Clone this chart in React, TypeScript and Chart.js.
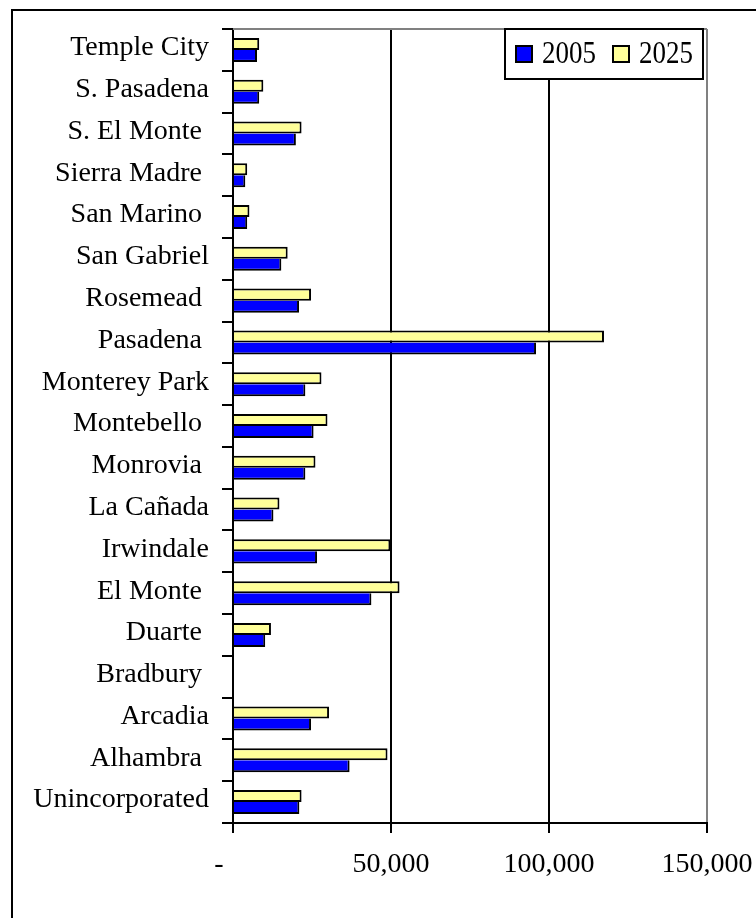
import React, { useEffect, useRef } from 'react';
import { Chart, registerables } from 'chart.js';

Chart.register(...registerables);

// Cities listed top to bottom as they appear on the category axis
const cities = [
  'Temple City',
  'S. Pasadena',
  'S. El Monte ',
  'Sierra Madre ',
  'San Marino ',
  'San Gabriel',
  'Rosemead ',
  'Pasadena ',
  'Monterey Park',
  'Montebello ',
  'Monrovia ',
  'La Cañada',
  'Irwindale',
  'El Monte ',
  'Duarte ',
  'Bradbury ',
  'Arcadia',
  'Alhambra ',
  'Unincorporated',
];

const pop2005 = [
  7600, 8300, 19900, 3900, 4500, 15300, 20900, 95900, 22900, 25500, 22900,
  12800, 26600, 43800, 10200, 0, 24700, 36900, 21000,
];

const pop2025 = [
  8300, 9600, 21700, 4500, 5200, 17300, 24700, 117400, 28000, 29900, 26100,
  14700, 49800, 52700, 12000, 0, 30400, 48900, 21700,
];

const xTicks = [0, 50000, 100000, 150000];

const SERIF = "'Liberation Serif', 'Times New Roman', serif";

const BLUE = '#0000FF';
const YELLOW = '#FFFF99';

// Gray frame line along the top edge of the plot area
const plotFrame = {
  id: 'plotFrame',
  beforeDatasetsDraw(chart: any) {
    const { ctx, chartArea } = chart;
    ctx.save();
    ctx.strokeStyle = '#808080';
    ctx.lineWidth = 2;
    ctx.beginPath();
    ctx.moveTo(chartArea.left, chartArea.top);
    ctx.lineTo(chartArea.right, chartArea.top);
    ctx.stroke();
    ctx.restore();
  },
};

// Boxed legend sitting in the top-right corner of the plot area
const boxedLegend = {
  id: 'boxedLegend',
  afterDraw(chart: any) {
    const { ctx, chartArea } = chart;
    const items = chart.data.datasets.slice().reverse();
    ctx.save();
    ctx.font = `27px ${SERIF}`;
    const sq = 18;
    const gap = 9;
    const itemGap = 16;
    const padX = 10;
    const widths = items.map((d: any) => ctx.measureText(d.label).width);
    let total = padX * 2;
    widths.forEach((w: number, i: number) => {
      total += sq + gap + w + (i < widths.length - 1 ? itemGap : 0);
    });
    const boxH = 50;
    const right = chartArea.right - 4;
    const left = right - total;
    const top = chartArea.top;
    ctx.fillStyle = '#fff';
    ctx.fillRect(left, top, total, boxH);
    ctx.strokeStyle = '#000';
    ctx.lineWidth = 2;
    ctx.strokeRect(left, top, total, boxH);

    let x = left + padX;
    const midY = top + boxH / 2;
    items.forEach((d: any, i: number) => {
      ctx.fillStyle = d.backgroundColor;
      ctx.fillRect(x, midY - sq / 2, sq, sq);
      ctx.strokeStyle = '#000';
      ctx.lineWidth = 2;
      ctx.strokeRect(x + 1, midY - sq / 2 + 1, sq - 2, sq - 2);
      ctx.fillStyle = '#000';
      ctx.textBaseline = 'middle';
      ctx.textAlign = 'left';
      // slightly tall lettering for the legend entries
      ctx.save();
      ctx.translate(x + sq + gap, midY + 1);
      ctx.scale(1, 1.15);
      ctx.fillText(d.label, 0, 0);
      ctx.restore();
      x += sq + gap + widths[i] + itemGap;
    });
    ctx.restore();
  },
};

export default function App() {
  const canvasRef = useRef<HTMLCanvasElement | null>(null);

  useEffect(() => {
    if (!canvasRef.current) return;
    const chart = new Chart(canvasRef.current, {
      type: 'bar',
      data: {
        labels: cities,
        datasets: [
          {
            label: '2025',
            data: pop2025,
            backgroundColor: YELLOW,
            borderColor: '#000',
            borderWidth: { top: 2, right: 2, bottom: 2, left: 0 },
            borderSkipped: false,
          },
          {
            label: '2005',
            data: pop2005,
            backgroundColor: BLUE,
            borderColor: '#000',
            borderWidth: { top: 0, right: 2, bottom: 2, left: 0 },
            borderSkipped: false,
          },
        ],
      },
      options: {
        indexAxis: 'y',
        animation: false,
        responsive: true,
        maintainAspectRatio: false,
        layout: { padding: { top: 18, right: 49, left: 0, bottom: 0 } },
        datasets: {
          bar: { categoryPercentage: 0.575, barPercentage: 1 },
        },
        plugins: {
          legend: { display: false },
          tooltip: { enabled: false },
        },
        scales: {
          x: {
            type: 'linear',
            min: xTicks[0],
            max: xTicks[xTicks.length - 1],
            afterBuildTicks: (scale: any) => {
              scale.ticks = xTicks.map((v) => ({ value: v }));
            },
            afterFit: (scale: any) => {
              scale.height = 95;
              scale.paddingLeft = 0;
              scale.paddingRight = 0;
            },
            grid: {
              color: (ctx: any) =>
                ctx.tick && ctx.tick.value === 150000 ? '#808080' : '#000',
              tickColor: '#000',
              lineWidth: 2,
              tickLength: 10,
            },
            border: { color: '#000', width: 2 },
            ticks: {
              color: '#000',
              font: { family: SERIF, size: 28 },
              padding: 15,
              maxRotation: 0,
              callback: (v: any) =>
                Number(v) === 0
                  ? '-\u2007\u2007'
                  : Number(v).toLocaleString('en-US'),
            },
          },
          y: {
            afterFit: (scale: any) => {
              scale.width = 220;
              scale.paddingTop = 0;
              scale.paddingBottom = 0;
            },
            grid: {
              drawOnChartArea: false,
              drawTicks: true,
              tickLength: 11,
              color: '#000',
              lineWidth: 2,
            },
            border: { color: '#000', width: 2 },
            ticks: {
              color: '#000',
              font: { family: SERIF, size: 28 },
              padding: 13,
              labelOffset: -2,
              autoSkip: false,
            },
          },
        },
      },
      plugins: [plotFrame, boxedLegend],
    });
    return () => chart.destroy();
  }, []);

  return (
    <div
      style={{
        position: 'fixed',
        left: 11,
        top: 9,
        width: 745,
        height: 909,
        borderLeft: '2px solid #000',
        borderTop: '2px solid #000',
        boxSizing: 'border-box',
        background: '#fff',
      }}
    >
      <div style={{ position: 'relative', width: 743, height: 907 }}>
        <canvas ref={canvasRef} />
      </div>
    </div>
  );
}
